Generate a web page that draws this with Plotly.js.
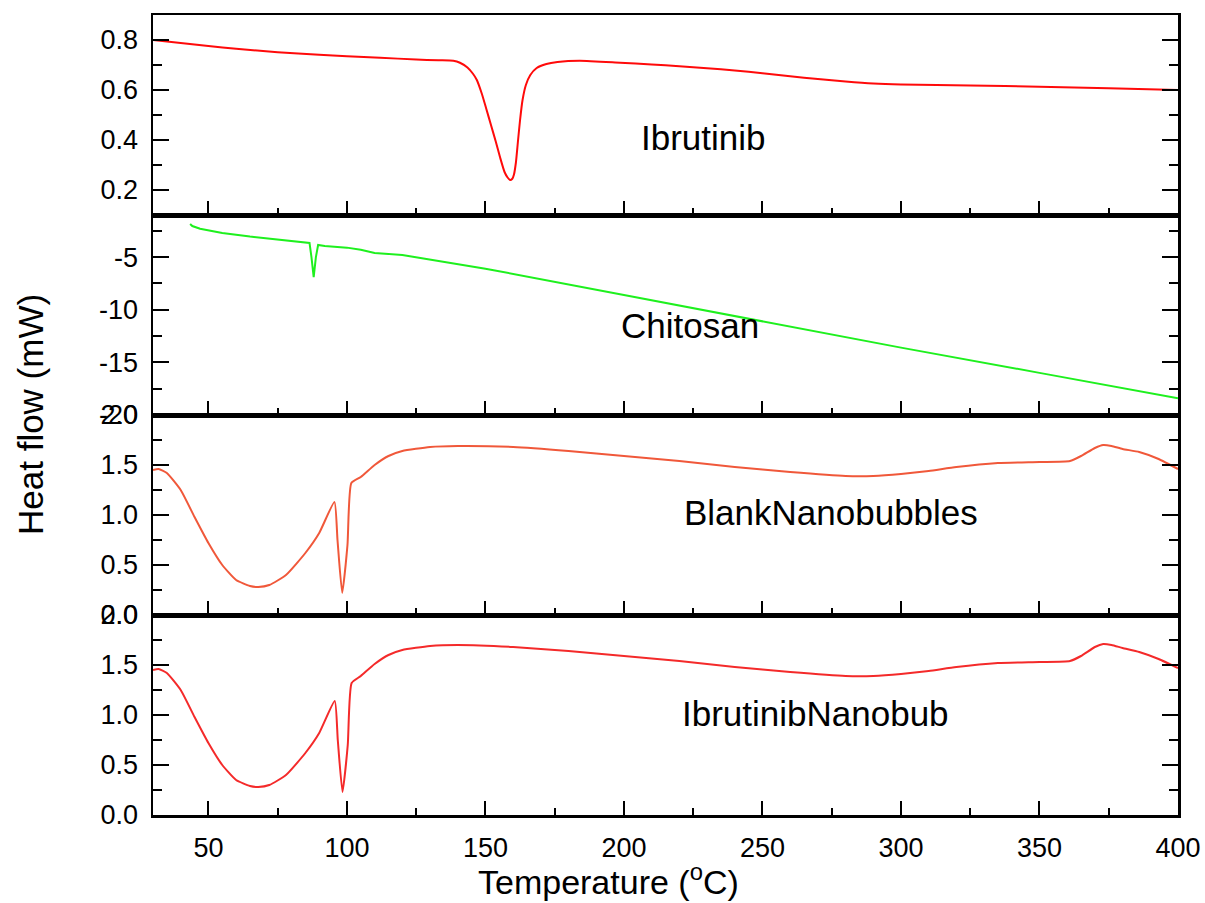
<!DOCTYPE html>
<html>
<head>
<meta charset="utf-8">
<script src="https://cdn.plot.ly/plotly-3.0.1.min.js"></script>
<style>html,body{margin:0;padding:0;background:#fff;}#chart{width:1205px;height:903px;}</style>
</head>
<body>
<div id="chart"></div>
<script>
// ---- Data ----
const ibrutinibX = [30, 40, 50, 60, 75, 90, 100, 112, 125, 133, 138.4, 140.8, 143.5, 145.5, 146.9, 148.7, 150.3, 152.0, 153.7, 155.3, 156.9, 158.0, 158.9, 159.7, 160.3, 161.0, 161.7, 162.5, 163.4, 164.6, 166.2, 168.5, 172, 176, 184, 198.6, 210, 220, 230, 240, 250, 260, 270, 280, 290, 300, 325, 350, 375, 400];
const ibrutinibY = [0.800, 0.788, 0.776, 0.765, 0.751, 0.741, 0.735, 0.729, 0.722, 0.719, 0.717, 0.709, 0.690, 0.665, 0.640, 0.585, 0.525, 0.460, 0.395, 0.330, 0.272, 0.250, 0.240, 0.245, 0.262, 0.310, 0.390, 0.480, 0.560, 0.620, 0.660, 0.688, 0.704, 0.712, 0.717, 0.709, 0.702, 0.695, 0.687, 0.678, 0.667, 0.655, 0.644, 0.634, 0.626, 0.622, 0.618, 0.613, 0.607, 0.600];

const chitosanX = [43.4, 44.2, 47, 55, 65, 75, 86.5, 87.2, 88.0, 88.8, 89.6, 92, 100, 105, 110, 120, 137, 150, 200, 250, 300, 350, 400];
const chitosanY = [-1.85, -2.05, -2.30, -2.70, -3.05, -3.35, -3.65, -5.00, -6.90, -5.00, -3.85, -3.95, -4.10, -4.30, -4.60, -4.80, -5.50, -6.10, -8.60, -11.10, -13.60, -16.00, -18.40];

const blankX = [30, 32, 35, 40, 45, 50, 55, 60, 65, 68, 72, 78, 85, 90, 95.5, 96.6, 98.3, 100.2, 101.6, 105, 110, 115, 120, 130, 140, 160, 180, 200, 220, 240, 260, 280, 290, 300, 310, 320, 335, 350, 361, 365, 370, 373, 376, 380, 386, 393, 400];
const blankY = [1.45, 1.46, 1.42, 1.25, 0.98, 0.72, 0.50, 0.35, 0.29, 0.28, 0.30, 0.40, 0.62, 0.82, 1.13, 0.75, 0.22, 0.70, 1.32, 1.38, 1.50, 1.59, 1.64, 1.68, 1.69, 1.68, 1.64, 1.59, 1.54, 1.48, 1.43, 1.39, 1.39, 1.41, 1.44, 1.48, 1.52, 1.53, 1.54, 1.59, 1.67, 1.70, 1.69, 1.66, 1.63, 1.56, 1.46];

const ibnanoX = [30, 32, 35, 40, 45, 50, 55, 60, 65, 68, 72, 78, 85, 90, 95.6, 96.7, 98.4, 100.3, 101.7, 105, 110, 115, 120, 130, 140, 160, 180, 200, 220, 240, 260, 280, 290, 300, 310, 320, 335, 350, 361, 365, 370, 373, 376, 380, 386, 393, 400];
const ibnanoY = [1.45, 1.46, 1.42, 1.25, 0.98, 0.72, 0.50, 0.35, 0.29, 0.28, 0.30, 0.40, 0.62, 0.82, 1.14, 0.75, 0.23, 0.70, 1.32, 1.39, 1.51, 1.60, 1.65, 1.69, 1.70, 1.68, 1.64, 1.59, 1.54, 1.48, 1.43, 1.39, 1.39, 1.41, 1.44, 1.48, 1.52, 1.53, 1.54, 1.59, 1.68, 1.71, 1.70, 1.67, 1.63, 1.56, 1.47];

const sampleNames = ["Ibrutinib", "Chitosan", "BlankNanobubbles", "IbrutinibNanobub"];
const xTickVals = [50, 100, 150, 200, 250, 300, 350, 400];
const xTickText = ["50", "100", "150", "200", "250", "300", "350", "400"];
const chitosanTickVals = [-20, -15, -10, -5];
const chitosanTickText = ["-20", "-15", "-10", "-5"];

// ---- Styling ----
const FONT = "Liberation Sans, Arial, sans-serif";
const tickFont = {family: FONT, size: 27, color: "#000"};

function xAxis(anchor, showLabels) {
  return {
    range: [30, 400], anchor: anchor, matches: anchor === "y" ? undefined : "x",
    tickmode: "array", tickvals: xTickVals, ticktext: xTickText,
    showticklabels: showLabels, ticks: "inside", ticklen: 14, tickwidth: 2, tickcolor: "#000",
    minor: {ticks: "inside", ticklen: 7, tickwidth: 2, tickcolor: "#000", tickmode: "linear", tick0: 0, dtick: 25},
    showline: true, linecolor: "#000", linewidth: 2.5, mirror: true,
    showgrid: false, zeroline: false, tickfont: tickFont, ticklabelstandoff: 7
  };
}
function yAxis(domain, anchor, extra) {
  return Object.assign({
    domain: domain, anchor: anchor,
    ticks: "inside", ticklen: 16, tickwidth: 2, tickcolor: "#000",
    showline: true, linecolor: "#000", linewidth: 2.5, mirror: "ticks",
    showgrid: false, zeroline: false, tickfont: tickFont, ticklabelstandoff: 7
  }, extra);
}

const traces = [
  {x: ibnanoX, y: ibnanoY, xaxis: "x", yaxis: "y", mode: "lines", line: {color: "#F42A2A", width: 2, shape: "spline", smoothing: 0.5}, name: sampleNames[3]},
  {x: blankX, y: blankY, xaxis: "x2", yaxis: "y2", mode: "lines", line: {color: "#F0583A", width: 2, shape: "spline", smoothing: 0.5}, name: sampleNames[2]},
  {x: chitosanX, y: chitosanY, xaxis: "x3", yaxis: "y3", mode: "lines", line: {color: "#1EF01E", width: 2}, name: sampleNames[1]},
  {x: ibrutinibX, y: ibrutinibY, xaxis: "x4", yaxis: "y4", mode: "lines", line: {color: "#FF0A0A", width: 2, shape: "spline", smoothing: 0.6}, name: sampleNames[0]}
];

const annFont = {family: FONT, size: 35, color: "#000"};
const layout = {
  width: 1205, height: 903,
  margin: {l: 153, r: 27, t: 15, b: 88},
  paper_bgcolor: "#fff", plot_bgcolor: "#fff",
  showlegend: false,
  font: {family: FONT, color: "#000"},
  xaxis: xAxis("y", true),
  xaxis2: xAxis("y2", false),
  xaxis3: xAxis("y3", false),
  xaxis4: xAxis("y4", false),
  yaxis: yAxis([0, 0.25], "x", {range: [0, 2], tickmode: "linear", tick0: 0, dtick: 0.5, tickformat: ".1f",
    minor: {ticks: "inside", ticklen: 9, tickwidth: 2, tickcolor: "#000", tickmode: "linear", tick0: 0, dtick: 0.25}}),
  yaxis2: yAxis([0.25, 0.5], "x2", {range: [0, 2], tickmode: "linear", tick0: 0, dtick: 0.5, tickformat: ".1f",
    minor: {ticks: "inside", ticklen: 9, tickwidth: 2, tickcolor: "#000", tickmode: "linear", tick0: 0, dtick: 0.25}}),
  yaxis3: yAxis([0.5, 0.75], "x3", {range: [-20, -1], tickmode: "array", tickvals: chitosanTickVals, ticktext: chitosanTickText,
    minor: {ticks: "inside", ticklen: 9, tickwidth: 2, tickcolor: "#000", tickmode: "linear", tick0: 0, dtick: 2.5}}),
  yaxis4: yAxis([0.75, 1], "x4", {range: [0.1, 0.9], tickmode: "linear", tick0: 0, dtick: 0.2, tickformat: ".1f",
    minor: {ticks: "inside", ticklen: 9, tickwidth: 2, tickcolor: "#000", tickmode: "linear", tick0: 0, dtick: 0.1}}),
  annotations: [
    {text: sampleNames[0], x: 228.6, y: 0.412, xref: "x4", yref: "y4", showarrow: false, font: annFont},
    {text: sampleNames[1], x: 223.9, y: -11.54, xref: "x3", yref: "y3", showarrow: false, font: annFont},
    {text: sampleNames[2], x: 274.8, y: 1.03, xref: "x2", yref: "y2", showarrow: false, font: annFont},
    {text: sampleNames[3], x: 269.0, y: 1.02, xref: "x", yref: "y", showarrow: false, font: annFont},
    {text: "Temperature (<sup>o</sup>C)", x: (608 - 153) / 1025, y: -0.081, xref: "paper", yref: "paper",
     xanchor: "center", yanchor: "middle", showarrow: false, font: {family: FONT, size: 34, color: "#000"}},
    {text: "Heat flow (mW)", x: (30 - 153) / 1025, y: 0.5, xref: "paper", yref: "paper", textangle: -90,
     xanchor: "center", yanchor: "middle", showarrow: false, font: {family: FONT, size: 35, color: "#000"}}
  ]
};

Plotly.newPlot("chart", traces, layout, {staticPlot: true, displayModeBar: false});
</script>
</body>
</html>
